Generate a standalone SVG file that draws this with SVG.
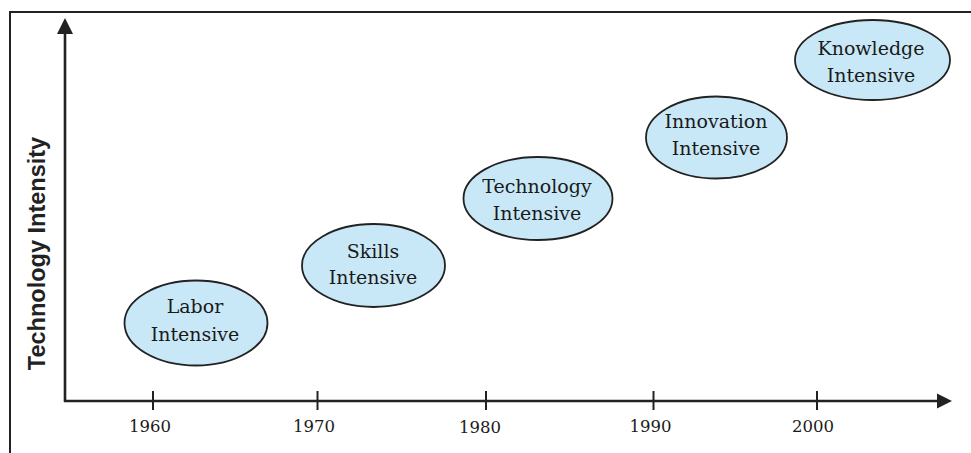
<svg xmlns="http://www.w3.org/2000/svg" width="971" height="453" viewBox="0 0 971 453">
<style>
.frame{fill:none;stroke:#222;stroke-width:2}
.axis{fill:none;stroke:#222;stroke-width:2.6}
.tick{stroke:#222;stroke-width:2}
.head{fill:#222}
.node ellipse{fill:#c9e8f7;stroke:#222;stroke-width:1.8}
.lbl{font-family:"DejaVu Serif","Liberation Serif",serif;font-size:19px;fill:#1a1a1a;text-anchor:middle}
.yr{font-family:"DejaVu Serif","Liberation Serif",serif;font-size:16.5px;fill:#1a1a1a;text-anchor:middle}
.ttl{font-family:"Liberation Sans",Arial,sans-serif;font-weight:bold;font-size:23.5px;fill:#222;text-anchor:middle}
</style>
<rect width="971" height="453" fill="#fff"/>
<path class="frame" d="M10,453 V12 H971"/>
<g id="connectors">
<line class="axis" x1="65" y1="402" x2="65" y2="32"/>
<polygon class="head" points="65,18 57,34 73,34"/>
<line class="axis" x1="64" y1="401" x2="939" y2="401"/>
<polygon class="head" points="952,401 937,393.5 937,408.5"/>
<line class="tick" x1="153" y1="391" x2="153" y2="410"/>
<line class="tick" x1="317.5" y1="391" x2="317.5" y2="410"/>
<line class="tick" x1="486" y1="391" x2="486" y2="410"/>
<line class="tick" x1="653.5" y1="391" x2="653.5" y2="410"/>
<line class="tick" x1="817" y1="391" x2="817" y2="410"/>
</g>
<g id="axis-labels">
<text class="yr" x="150" y="432">1960</text>
<text class="yr" x="314" y="432">1970</text>
<text class="yr" x="480" y="433">1980</text>
<text class="yr" x="650.5" y="431.5">1990</text>
<text class="yr" x="813" y="431.5">2000</text>
<text class="ttl" transform="translate(45,253.5) rotate(-90)">Technology Intensity</text>
</g>
<g id="labor" class="node">
<ellipse cx="196" cy="323" rx="71.5" ry="42.5"/>
<text class="lbl" x="195" y="313">Labor</text>
<text class="lbl" x="195" y="340.5">Intensive</text>
</g>
<g id="skills" class="node">
<ellipse cx="373.5" cy="265.5" rx="71.5" ry="41.5"/>
<text class="lbl" x="373" y="258">Skills</text>
<text class="lbl" x="373" y="283.5">Intensive</text>
</g>
<g id="technology" class="node">
<ellipse cx="538" cy="198.5" rx="74.5" ry="41.5"/>
<text class="lbl" x="537" y="192.5">Technology</text>
<text class="lbl" x="537" y="219.5">Intensive</text>
</g>
<g id="innovation" class="node">
<ellipse cx="716.5" cy="137.5" rx="70.5" ry="41"/>
<text class="lbl" x="716" y="127.5">Innovation</text>
<text class="lbl" x="716" y="155">Intensive</text>
</g>
<g id="knowledge" class="node">
<ellipse cx="872.5" cy="60" rx="77.5" ry="40"/>
<text class="lbl" x="871" y="55">Knowledge</text>
<text class="lbl" x="871" y="81.5">Intensive</text>
</g>
</svg>
